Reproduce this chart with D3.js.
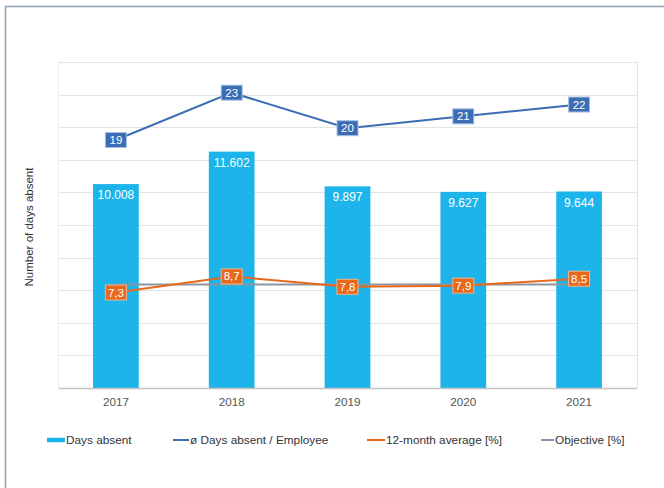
<!DOCTYPE html>
<html>
<head>
<meta charset="utf-8">
<script src="https://cdn.jsdelivr.net/npm/d3@7"></script>
<style>
  html, body { margin: 0; padding: 0; background: #fff; }
  svg { display: block; font-family: "Liberation Sans", Arial, Helvetica, sans-serif; }
</style>
</head>
<body>
<svg id="chart" width="664" height="488"></svg>
<script>
// Absence statistics 2017–2021
const years = ["2017", "2018", "2019", "2020", "2021"];
const daysAbsent = [10008, 11602, 9897, 9627, 9644];
const daysPerEmployee = [19, 23, 20, 21, 22];
const avg12Month = [7.3, 8.7, 7.8, 7.9, 8.5];
const objective = [8.0, 8.0, 8.0, 8.0, 8.0];
const legendLabels = ["Days absent", "ø Days absent / Employee", "12-month average [%]", "Objective [%]"];

const W = 664, H = 488;
const plot = { left: 58, top: 62, right: 637, bottom: 388 };

const colors = {
  bar: "#1cb4ea",
  perEmp: "#3b6db5",
  avg: "#e8681c",
  objective: "#8c95a0",
  grid: "#e3e3e3",
  text: "#555"
};

const svg = d3.select("#chart");

// Outer panel frame
svg.append("rect")
  .attr("x", 5.5).attr("y", 6.5)
  .attr("width", W + 20).attr("height", H + 20)
  .attr("fill", "none")
  .attr("stroke", "#8fa0b5")
  .attr("stroke-width", 1.5);

// Scales
const x = d3.scaleBand().domain(years)
  .range([plot.left, plot.right])
  .paddingInner(0.605).paddingOuter(0.3025);
const cx = d => x(d) + x.bandwidth() / 2;

const yBars = d3.scaleLinear().domain([0, 16000]).range([plot.bottom, plot.top]);
const yPerEmp = d3.scaleLinear().domain([0, 25]).range([plot.bottom - 23, plot.bottom - 23 - 296]);
const yPct = d3.scaleLinear().domain([0, 10]).range([plot.bottom - 11.6, plot.bottom - 11.6 - 114.9]);

// Grid (10 bands)
const gridTicks = d3.range(0, 16001, 1600);
svg.append("g").selectAll("line")
  .data(gridTicks.slice(1))
  .join("line")
  .attr("x1", plot.left).attr("x2", plot.right)
  .attr("y1", d => Math.round(yBars(d)) + 0.5)
  .attr("y2", d => Math.round(yBars(d)) + 0.5)
  .attr("stroke", colors.grid)
  .attr("stroke-width", 1.2);

// Plot side borders
svg.append("line")
  .attr("x1", plot.left + 0.5).attr("x2", plot.left + 0.5)
  .attr("y1", plot.top).attr("y2", plot.bottom)
  .attr("stroke", "#ececec");
svg.append("line")
  .attr("x1", plot.right + 0.5).attr("x2", plot.right + 0.5)
  .attr("y1", plot.top).attr("y2", plot.bottom)
  .attr("stroke", "#e3e3e3");

// Bars
svg.append("g").selectAll("rect")
  .data(daysAbsent)
  .join("rect")
  .attr("x", (d, i) => x(years[i]))
  .attr("y", d => yBars(d))
  .attr("width", x.bandwidth())
  .attr("height", d => plot.bottom - yBars(d))
  .attr("fill", colors.bar);

// Bar value labels
const fmtDe = v => d3.format(",")(v).replace(/,/g, ".");
svg.append("g").selectAll("text")
  .data(daysAbsent)
  .join("text")
  .attr("x", (d, i) => cx(years[i]))
  .attr("y", d => yBars(d) + 15)
  .attr("text-anchor", "middle")
  .attr("fill", "#fff")
  .attr("font-size", 12)
  .text(d => fmtDe(d));

// Bottom axis
const xAxis = svg.append("g")
  .attr("transform", `translate(0,${plot.bottom})`)
  .call(d3.axisBottom(x).tickSize(0).tickPadding(10));
xAxis.select(".domain").attr("stroke", "#c4c4c4").attr("stroke-width", 1.5);
xAxis.selectAll("text")
  .attr("font-size", 11.7)
  .attr("fill", colors.text)
  .attr("font-family", "Liberation Sans, Arial, sans-serif");

// Y-axis title
svg.append("text")
  .attr("transform", `translate(33,${(plot.top + plot.bottom) / 2 + 2}) rotate(-90)`)
  .attr("text-anchor", "middle")
  .attr("font-size", 11.5)
  .attr("fill", "#333")
  .text("Number of days absent");

// Lines
const lineFor = (scale) => d3.line()
  .x((d, i) => cx(years[i]))
  .y(d => scale(d));

svg.append("path")
  .datum(objective)
  .attr("d", lineFor(yPct))
  .attr("fill", "none")
  .attr("stroke", colors.objective)
  .attr("stroke-width", 2);

svg.append("path")
  .datum(avg12Month)
  .attr("d", lineFor(yPct))
  .attr("fill", "none")
  .attr("stroke", colors.avg)
  .attr("stroke-width", 2);

svg.append("path")
  .datum(daysPerEmployee)
  .attr("d", lineFor(yPerEmp))
  .attr("fill", "none")
  .attr("stroke", colors.perEmp)
  .attr("stroke-width", 2);

// Boxed point labels
function boxLabels(values, scale, fill, stroke, fmt) {
  const g = svg.append("g").selectAll("g")
    .data(values)
    .join("g")
    .attr("transform", (d, i) => `translate(${cx(years[i])},${scale(d)})`);
  g.append("rect")
    .attr("x", -10.5).attr("y", -7.5)
    .attr("width", 21).attr("height", 15)
    .attr("fill", fill)
    .attr("stroke", stroke)
    .attr("stroke-width", 1);
  g.append("text")
    .attr("y", 4)
    .attr("text-anchor", "middle")
    .attr("fill", "#fff")
    .attr("font-size", 11.5)
    .text(fmt);
}
boxLabels(daysPerEmployee, yPerEmp, colors.perEmp, "#a9c0e3", d => d);
boxLabels(avg12Month, yPct, colors.avg, "#f3b48a", d => d.toFixed(1).replace(".", ","));

// Legend
const legendY = 440;
const legendItems = [
  { label: legendLabels[0], color: colors.bar, x: 47, w: 18, h: 4.5 },
  { label: legendLabels[1], color: colors.perEmp, x: 173, w: 16, h: 2 },
  { label: legendLabels[2], color: colors.avg, x: 367, w: 18, h: 2 },
  { label: legendLabels[3], color: colors.objective, x: 541, w: 13, h: 2 }
];
const lg = svg.append("g").selectAll("g")
  .data(legendItems)
  .join("g")
  .attr("transform", d => `translate(${d.x},${legendY})`);
lg.append("rect")
  .attr("x", 0).attr("y", d => -d.h / 2)
  .attr("width", d => d.w).attr("height", d => d.h)
  .attr("fill", d => d.color);
lg.append("text")
  .attr("x", d => d.w + 1)
  .attr("y", 4)
  .attr("font-size", 11.8)
  .attr("fill", "#333")
  .text(d => d.label);
</script>
</body>
</html>
